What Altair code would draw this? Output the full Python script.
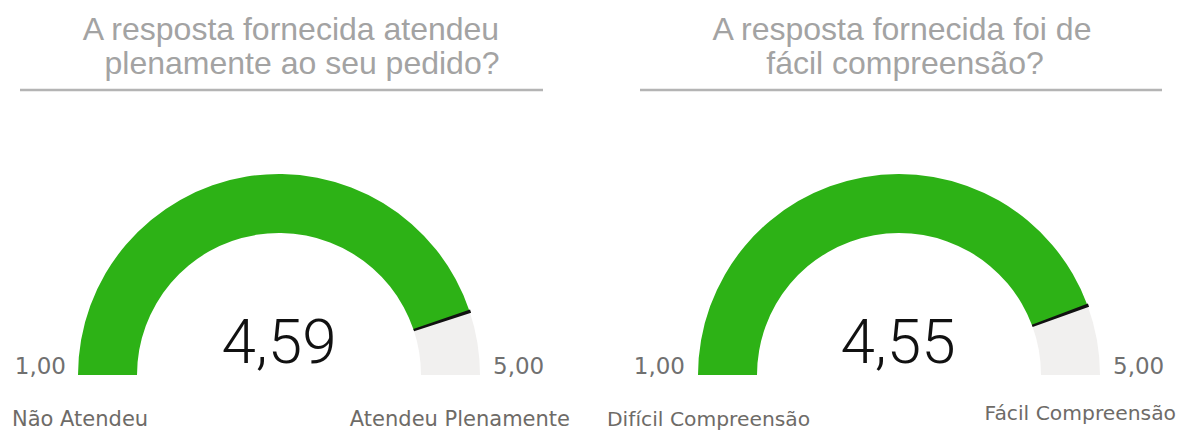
import math
import altair as alt
import pandas as pd

# ---- data ----
QUESTIONS = [
    ["A resposta fornecida atendeu", "plenamente ao seu pedido?"],
    ["A resposta fornecida foi de", "fácil compreensão?"],
]
VALUES = [4.59, 4.55]
SCALE_MIN = [1.0, 1.0]
SCALE_MAX = [5.0, 5.0]
LEFT_LABELS = ["Não Atendeu", "Difícil Compreensão"]
RIGHT_LABELS = ["Atendeu Plenamente", "Fácil Compreensão"]

# ---- style ----
GREEN = "#2db216"
REST = "#f1f0ef"
TITLE_COLOR = "#a3a3a3"
RULE_COLOR = "#b4b4b4"
LABEL_COLOR = "#6e6b67"
NUM_COLOR = "#707070"
R_OUT = 201
R_IN = 142
PANEL_W = 584
PANEL_H = 414

LAYOUT = [
    dict(cx=271, cy=367, tx=[283, 294], rx1=12, rx2=535, val_x=271,
         lmin_x=58, lmax_x=485, ll_x=4, rl_x=562, rl_y=418, lab_size=21),
    dict(cx=307, cy=367, tx=[310, 313], rx1=48, rx2=570, val_x=306,
         lmin_x=93, lmax_x=521, ll_x=15, rl_x=584, rl_y=412, lab_size=20.3),
]


def fmt(v):
    return f"{v:.2f}".replace(".", ",")


def text_layer(txt, x, y, size, color, font, align="center", weight="normal"):
    return alt.Chart(pd.DataFrame({"t": [txt]})).mark_text(
        align=align, baseline="alphabetic", fontSize=size, color=color,
        font=font, fontWeight=weight,
    ).encode(text="t:N", x=alt.value(x), y=alt.value(y))


def gauge(i):
    L = LAYOUT[i]
    lo, hi, v = SCALE_MIN[i], SCALE_MAX[i], VALUES[i]
    theta_scale = alt.Scale(domain=[lo, hi], range=[1.5 * math.pi, 2.5 * math.pi])

    parts = pd.DataFrame({
        "start": [lo, v],
        "end": [v, hi],
        "part": ["valor", "restante"],
    })
    arcs = alt.Chart(parts).mark_arc(radius=R_OUT, radius2=R_IN).encode(
        theta=alt.Theta("start:Q", scale=theta_scale, stack=None),
        theta2="end:Q",
        color=alt.Color("part:N", scale=alt.Scale(domain=["valor", "restante"],
                                                   range=[GREEN, REST]), legend=None),
        x=alt.value(L["cx"]),
        y=alt.value(L["cy"]),
    )

    needle = alt.Chart(pd.DataFrame({"v": [v]})).transform_calculate(
        a="datum.v - 0.011", b="datum.v + 0.011"
    ).mark_arc(radius=R_OUT + 1, radius2=R_IN, color="#111111").encode(
        theta=alt.Theta("a:Q", scale=theta_scale, stack=None),
        theta2="b:Q",
        x=alt.value(L["cx"]),
        y=alt.value(L["cy"]),
    )

    layers = [arcs, needle]
    # title lines
    for k, line in enumerate(QUESTIONS[i]):
        layers.append(text_layer(line, L["tx"][k], 32 + 34 * k, 32, TITLE_COLOR,
                                 "Liberation Sans"))
    # underline
    layers.append(
        alt.Chart(pd.DataFrame({"d": [0]})).mark_rule(color=RULE_COLOR, strokeWidth=2.5).encode(
            x=alt.value(L["rx1"]), x2=alt.value(L["rx2"]), y=alt.value(82)
        )
    )
    # value
    layers.append(text_layer(fmt(v), L["val_x"], 355, 62, "#111111", "Roboto",
                             weight=300))
    # min / max
    layers.append(text_layer(fmt(lo), L["lmin_x"], 366, 23, NUM_COLOR, "DejaVu Sans",
                             align="right"))
    layers.append(text_layer(fmt(hi), L["lmax_x"], 366, 23, NUM_COLOR, "DejaVu Sans",
                             align="left"))
    # end labels
    layers.append(text_layer(LEFT_LABELS[i], L["ll_x"], 418, L["lab_size"], LABEL_COLOR,
                             "DejaVu Sans", align="left"))
    layers.append(text_layer(RIGHT_LABELS[i], L["rl_x"], L["rl_y"], L["lab_size"],
                             LABEL_COLOR, "DejaVu Sans", align="right"))

    return alt.layer(*layers).properties(width=PANEL_W, height=PANEL_H)


chart = alt.hconcat(gauge(0), gauge(1), spacing=0).properties(
    padding=0
).configure_view(stroke=None)

chart.save("out.html", embed_options={"renderer": "svg", "actions": False})
